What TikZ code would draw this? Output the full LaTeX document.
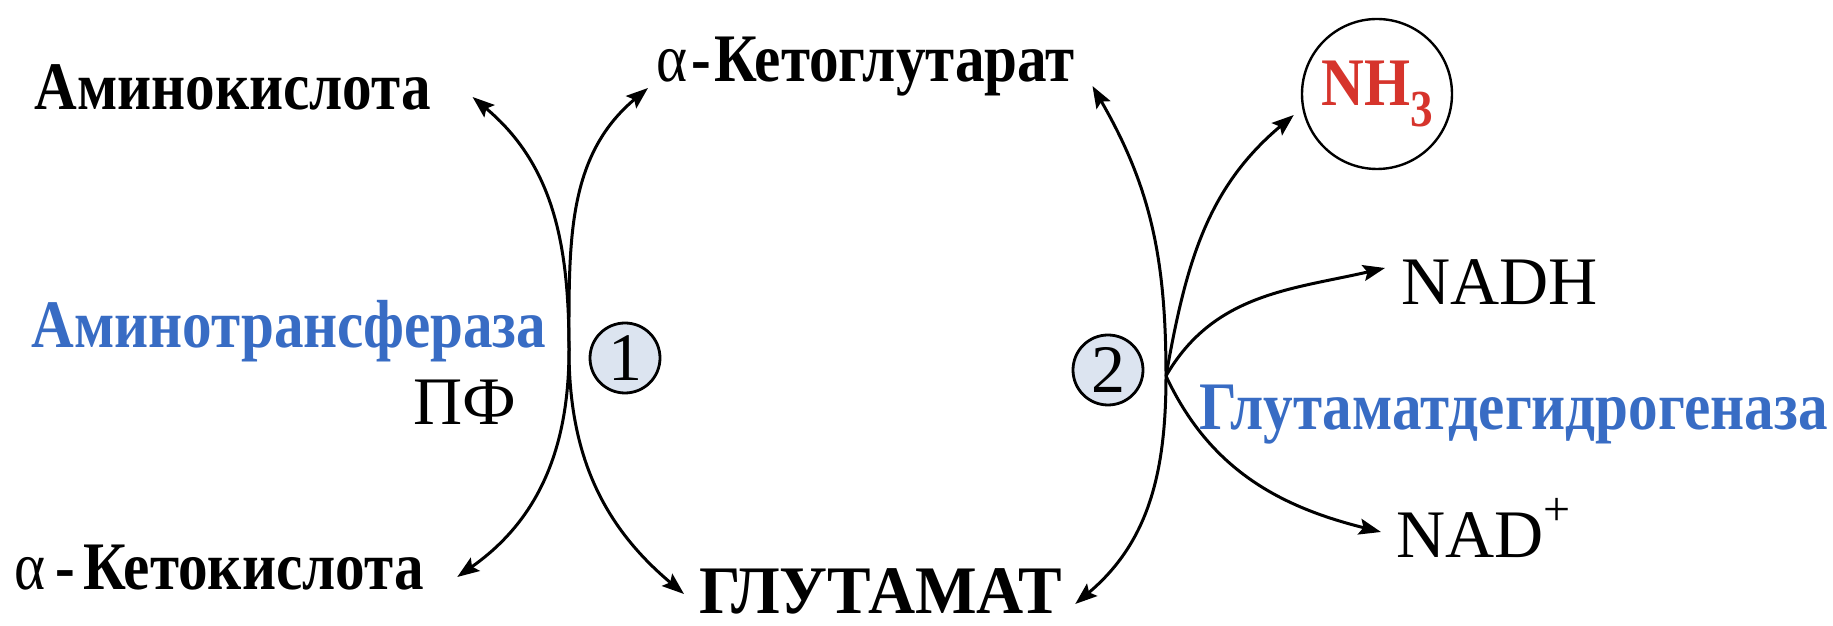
\documentclass[tikz,border=0pt]{standalone}
\usepackage{fontspec}
\setmainfont{Liberation Serif}
\newfontfamily\condfont{Liberation Serif}[FakeStretch=0.87]
\newfontfamily\capsfont{Liberation Serif}[FakeStretch=0.96]
\usetikzlibrary{arrows.meta}
\definecolor{enzblue}{RGB}{56,108,196}
\definecolor{nhred}{RGB}{214,52,44}
\definecolor{numfill}{RGB}{220,228,240}

\begin{document}
\begin{tikzpicture}[x=0.5pt,y=0.5pt,>={Stealth[length=11pt,width=8pt,inset=2pt]},line width=1.5pt,
    met/.style={inner sep=0pt,font=\condfont\bfseries\fontsize{34}{34}\selectfont},
    enz/.style={met,text=enzblue},
    cof/.style={inner sep=0pt,font=\fontsize{34}{34}\selectfont},
    num/.style={draw,circle,fill=numfill,line width=1.4pt,minimum size=35pt,inner sep=0pt,font=\fontsize{34}{34}\selectfont}]
        \useasboundingbox (0,0) rectangle (1833,626);

        \node (amino) [met, anchor=base west] at (33,516) {Аминокислота};
        \node (amtr) [enz, anchor=base west] at (30,278) {Аминотрансфераза};
        \node (pf) [cof, anchor=base west] at (412,201) {ПФ};
        \node (aketo) [met, anchor=base west] at (13,36) {{\mdseries α}\kern5pt-\kern4pt Кетокислота};
        \node (akg) [met, anchor=base west] at (655,544) {{\mdseries α}\kern2pt-\kern1.5pt Кетоглутарат};
        \node (glu) [met, font=\capsfont\bfseries\fontsize{34}{34}\selectfont, anchor=base west] at (698,12) {ГЛУТАМАТ};
        \node (nh3) [draw, circle, line width=1.2pt, minimum size=75pt, inner sep=0pt, met, text=nhred] at (1377,532) {NH\raisebox{-10pt}{\fontsize{26}{26}\selectfont 3}};
        \node (nadh) [cof, anchor=base west] at (1400,321) {NADH};
        \node (gdh) [enz, anchor=base west] at (1198,196) {Глутаматдегидрогеназа};
        \node (nad) [cof, anchor=base west] at (1395,68) {NAD\raisebox{16pt}{\fontsize{24}{24}\selectfont +}};
        \node (one) [num] at (625,268) {1};
        \node (two) [num] at (1108,256) {2};

        \coordinate (cross) at (569,276);
        \coordinate (hub) at (1166,250);

        % transamination
        \draw[<->] ([shift={(40,13)}]amino.base east) to[out=-40,in=90] (cross) to[out=-90,in=140] ([shift={(-14,20)}]glu.base west);
        \draw[<->] ([shift={(32,13)}]aketo.base east) to[out=35,in=-90] (cross) to[out=90,in=220] ([shift={(-7,-6)}]akg.base west);

        % oxidative deamination
        \draw[<->] ([shift={(16,-4)}]akg.base east) to[out=-60,in=90] (hub) to[out=-90,in=40] ([shift={(12,10)}]glu.base east);
        \draw[->] (hub) to[out=80,in=220] ([shift={(-7,-21)}]nh3.west);
        \draw[->] (hub) to[out=60,in=193] ([shift={(-15,37)}]nadh.base west);
        \draw[->] (hub) to[out=-65,in=166] ([shift={(-14,26)}]nad.base west);
    \end{tikzpicture}
\end{document}
